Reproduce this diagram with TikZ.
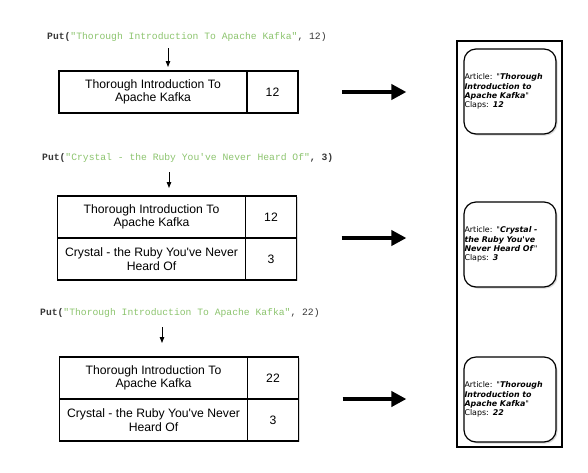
\documentclass[tikz,border=0pt]{standalone}
\usepackage{fontspec}
\setmainfont{Liberation Sans}[Ligatures=TeXOff]
\newfontfamily\codefont{Liberation Mono}[Ligatures=TeXOff]
\newfontfamily\cardfont{DejaVu Sans}[Ligatures=TeXOff]
\usetikzlibrary{positioning, arrows.meta, shadows}
\definecolor{strgreen}{RGB}{140,196,110}
\definecolor{codegray}{RGB}{55,55,55}
\tikzstyle{Cell}=[draw, line width=1.2pt, fill=white, outer sep=0pt, inner sep=0pt, align=center,
  font=\fontsize{12.2}{13.5}\selectfont, drop shadow={shadow xshift=1.2pt, shadow yshift=-1.2pt, opacity=.3}]
\tikzstyle{Title}=[Cell, minimum width=188pt, minimum height=42pt]
\tikzstyle{Claps}=[Cell, minimum width=51pt, minimum height=42pt]
\tikzstyle{Call}=[anchor=west, inner sep=0pt, text=codegray, font=\codefont\fontsize{9.7}{11}\selectfont]
\tikzstyle{Card}=[draw, line width=1.2pt, fill=white, rounded corners=12pt, minimum width=92pt, minimum height=85pt,
  text width=91pt, inner sep=0.5pt, align=left, font=\cardfont\fontsize{7.9}{9.2}\selectfont,
  drop shadow={shadow xshift=1.5pt, shadow yshift=-1.5pt, opacity=.3}]
\tikzstyle{Push}=[line width=4pt, -{Triangle[length=15pt,width=15pt]}]
\tikzstyle{Down}=[line width=1pt, -{Triangle[length=6pt,width=4.5pt]}]

\begin{document}
\begin{tikzpicture}[x=1pt, y=-1pt]
		\useasboundingbox (0,0) rectangle (588,472);
		% calls
		\node[Call] (put1) at (47,37) {\textbf{Put(}\textcolor{strgreen}{"Thorough Introduction To Apache Kafka"}, 12)};
		\node[Call] (put2) at (42,158) {\textbf{Put(}\textcolor{strgreen}{"Crystal - the Ruby You've Never Heard Of"}\textbf{, 3)}};
		\node[Call] (put3) at (40,313) {\textbf{Put(}\textcolor{strgreen}{"Thorough Introduction To Apache Kafka"}, 22)};
		% tables
		\node[Title] (t1a) at (153,92) {Thorough Introduction To\\Apache Kafka};
		\node[Claps, right=0pt of t1a] (t1n) {12};
		\node[Title] (t2a) at (151.5,217) {Thorough Introduction To\\Apache Kafka};
		\node[Claps, right=0pt of t2a] (t2n) {12};
		\node[Title, below=0pt of t2a] (t2b) {Crystal - the Ruby You've Never\\Heard Of};
		\node[Claps, right=0pt of t2b] (t2m) {3};
		\node[Title] (t3a) at (153.5,378) {Thorough Introduction To\\Apache Kafka};
		\node[Claps, right=0pt of t3a] (t3n) {22};
		\node[Title, below=0pt of t3a] (t3b) {Crystal - the Ruby You've Never\\Heard Of};
		\node[Claps, right=0pt of t3b] (t3m) {3};
		% store
		\node[draw, line width=1.2pt, minimum width=105pt, minimum height=406pt, inner sep=0pt] (store) at (509.5,244) {};
		\node[Card] (card1) at (510,91.5) {Article: "\textbf{\textit{Thorough\\Introduction to\\Apache Kafka}}"\\Claps: \textbf{\textit{12}}};
		\node[Card] (card2) at (510,244.5) {Article: "\textbf{\textit{Crystal -\\the Ruby You've\\Never Heard Of}}"\\Claps: \textbf{\textit{3}}};
		\node[Card] (card3) at (510,399.5) {Article: "\textbf{\textit{Thorough\\Introduction to\\Apache Kafka}}"\\Claps: \textbf{\textit{22}}};
		% arrows
		\coordinate (a1) at (168,48);
		\coordinate (a2) at (169,172);
		\coordinate (a3) at (162,327);
		\draw[Down, shorten >=4pt] (a1) -- (a1 |- t1a.north);
		\draw[Down, shorten >=8pt] (a2) -- (a2 |- t2a.north);
		\draw[Down, shorten >=14pt] (a3) -- (a3 |- t3a.north);
		\draw[Push, shorten <=44pt, shorten >=57pt] (t1n.east) -- (t1n.east -| card1.west);
		\draw[Push, shorten <=45pt, shorten >=57pt] (t2n.south east) -- (t2n.south east -| card2.west);
		\draw[Push, shorten <=44pt, shorten >=57pt] (t3n.south east) -- (t3n.south east -| card3.west);
\end{tikzpicture}
\end{document}
